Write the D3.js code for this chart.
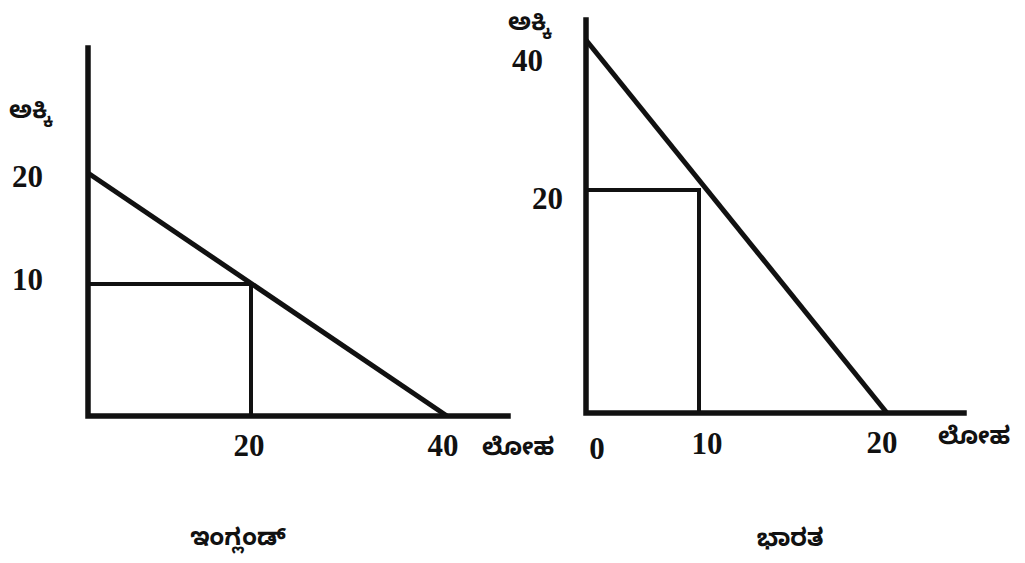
<!DOCTYPE html>
<html>
<head>
<meta charset="utf-8">
<script src="https://cdn.jsdelivr.net/npm/d3@7"></script>
<style>
  html, body { margin: 0; padding: 0; background: #fff; }
  svg { display: block; }
  .num { font-family: "Liberation Serif", "Times New Roman", serif; font-size: 31px; font-weight: bold; fill: #111; }
  .kn { font-family: "Noto Sans Kannada", "Noto Sans", sans-serif; font-size: 24px; font-weight: bold; fill: #111; }
</style>
</head>
<body>
<svg id="chart" width="1025" height="563"></svg>
<script>
// ---- data ----
const yLabel = "ಅಕ್ಕಿ";      // rice
const xLabel = "ಲೋಹ";        // metal
const englandTitle = "ಇಂಗ್ಲಂಡ್";
const indiaTitle = "ಭಾರತ";

const englandLine = [[0, 20], [40, 0]];
const englandPoint = [20, 10];
const englandXTicks = [20, 40];
const englandYTicks = [20, 10];

const indiaLine = [[0, 40], [20, 0]];
const indiaPoint = [10, 20];
const indiaXTicks = [0, 10, 20];
const indiaYTicks = [40, 20];

// ---- layout ----
const svg = d3.select("#chart");

// scales (polylinear, matching the hand-drawn figure)
const exX = d3.scaleLinear().domain([0, 20, 40]).range([88, 251, 447]);
const exY = d3.scaleLinear().domain([0, 10, 20]).range([416, 284, 173]);
const inX = d3.scaleLinear().domain([0, 10, 20]).range([586, 699, 887]);
const inY = d3.scaleLinear().domain([0, 20, 40]).range([413, 190, 40]);

function panel(x, y, line, point, axisEndX, axisTopY) {
  const g = svg.append("g");
  // box lines
  g.append("path")
    .attr("d", d3.line()([[x(0), y(point[1])], [x(point[0]), y(point[1])], [x(point[0]), y(0)]]))
    .attr("fill", "none").attr("stroke", "#111").attr("stroke-width", 4);
  // production possibility line
  g.append("path")
    .attr("d", d3.line().x(d => x(d[0])).y(d => y(d[1]))(line))
    .attr("fill", "none").attr("stroke", "#111").attr("stroke-width", 5);
  // axes
  g.append("path")
    .attr("d", d3.line()([[x(0), axisTopY], [x(0), y(0)], [axisEndX, y(0)]]))
    .attr("fill", "none").attr("stroke", "#111").attr("stroke-width", 5.5)
    .attr("stroke-linejoin", "miter").attr("stroke-linecap", "square");
  return g;
}

const gE = panel(exX, exY, englandLine, englandPoint, 508, 48);
const gI = panel(inX, inY, indiaLine, indiaPoint, 964, 20);

// England tick labels
gE.selectAll(".yt").data(englandYTicks).join("text")
  .attr("class", "num").attr("text-anchor", "end")
  .attr("x", exX(0) - 45)
  .attr("y", (d, i) => exY(d) + (i === 0 ? 14 : 6))
  .text(d => d);
gE.selectAll(".xt").data(englandXTicks).join("text")
  .attr("class", "num").attr("text-anchor", "middle")
  .attr("x", (d, i) => exX(d) + (i === 0 ? -2 : -4))
  .attr("y", exY(0) + 40)
  .text(d => d);

// India tick labels
gI.selectAll(".yt").data(indiaYTicks).join("text")
  .attr("class", "num").attr("text-anchor", "end")
  .attr("x", (d, i) => inX(0) - (i === 0 ? 43 : 23))
  .attr("y", (d, i) => inY(d) + (i === 0 ? 31 : 19))
  .text(d => d);
gI.selectAll(".xt").data(indiaXTicks).join("text")
  .attr("class", "num").attr("text-anchor", "middle")
  .attr("x", (d, i) => inX(d) + [11, 8, -5][i])
  .attr("y", (d, i) => inY(0) + [46, 41, 40][i])
  .text(d => d);

// axis names
svg.append("text").attr("class", "kn").attr("x", 9).attr("y", 118).text(yLabel);
svg.append("text").attr("class", "kn").attr("x", 508).attr("y", 30).text(yLabel);
svg.append("text").attr("class", "kn").attr("x", 482).attr("y", 455).text(xLabel);
svg.append("text").attr("class", "kn").attr("x", 938).attr("y", 444).text(xLabel);

// titles
svg.append("text").attr("class", "kn").attr("text-anchor", "middle")
  .attr("x", 238).attr("y", 545).text(englandTitle);
svg.append("text").attr("class", "kn").attr("text-anchor", "middle")
  .attr("x", 790).attr("y", 546).text(indiaTitle);
</script>
</body>
</html>
